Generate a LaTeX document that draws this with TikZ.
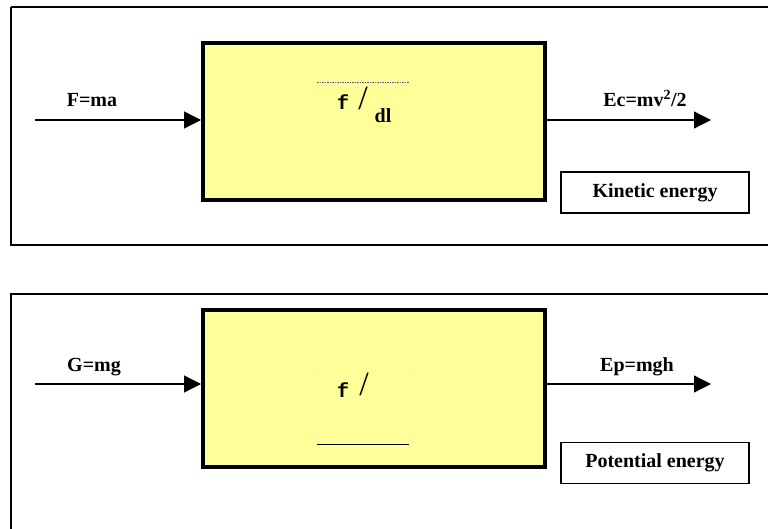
\documentclass[tikz,border=0pt]{standalone}
\usepackage{fontspec}
\setmainfont{Liberation Serif}
\newfontfamily\cour{Liberation Mono}
\usetikzlibrary{arrows.meta}
\definecolor{boxyellow}{RGB}{255,255,153}
\definecolor{dashgrey}{RGB}{90,90,140}
\tikzset{
  frame/.style={draw=black,line width=1.5pt},
  machine/.style={draw=black,fill=boxyellow,line width=4pt},
  flow/.style={draw=black,line width=1.3pt,-{Triangle[length=17pt,width=17pt]}},
  lbl/.style={font=\fontsize{20}{22}\selectfont\bfseries,inner sep=0pt,anchor=base},
  tag/.style={draw=black,line width=1.3pt,minimum width=188pt,minimum height=41pt,font=\fontsize{20}{22}\selectfont\bfseries,inner sep=0pt},
  mono/.style={font=\cour\fontsize{20}{22}\selectfont\bfseries,inner sep=0pt,anchor=base},
  slash/.style={font=\fontsize{34}{36}\selectfont,inner sep=0pt,anchor=base},
}
\begin{document}
\begin{tikzpicture}[x=1pt,y=-1pt]
\useasboundingbox (0,0) rectangle (768,529);
% top panel
\draw[frame] (11,7) -- (770,7) (11,7) -- (11,245) -- (770,245);
\node[machine,minimum width=342pt,minimum height=157pt,inner sep=0pt] (m1) at (374,121.5) {};
\coordinate (in1) at (35,120);
\coordinate (out1) at (711,120);
\draw[flow] (in1) -- (m1.west |- in1);
\draw[flow] (m1.east |- out1) -- (out1);
\node[lbl] (fma) at (92,107) {F=ma};
\node[lbl] (ec) at (645,107) {Ec=mv\textsuperscript{2}/2};
\node[tag] (ke) at (655,192.5) {Kinetic energy};
\coordinate (d1a) at (317,82);
\coordinate (d1b) at (409,82);
\draw[dashgrey,dash pattern=on 1.5pt off 1pt,line width=0.8pt] (d1a) -- (d1b);
\node[mono] (f1) at (343,110) {f};
\node[slash] (s1) at (363,110) {/};
\node[lbl] (dl1) at (383,123) {dl};
% bottom panel
\draw[frame] (11,531) -- (11,294) -- (770,294);
\node[machine,minimum width=342pt,minimum height=157pt,inner sep=0pt] (m2) at (374,388.5) {};
\coordinate (in2) at (35,384);
\coordinate (out2) at (711,384);
\draw[flow] (in2) -- (m2.west |- in2);
\draw[flow] (m2.east |- out2) -- (out2);
\node[lbl] (gmg) at (94,371) {G=mg};
\node[lbl] (ep) at (637,371) {Ep=mgh};
\node[tag] (pe) at (655,463) {Potential energy};
\coordinate (d2a) at (317,369);
\coordinate (d2b) at (409,369);
\draw[white,line width=0.7pt] (d2a) -- (d2b);
\coordinate (d3a) at (317,444);
\coordinate (d3b) at (409,444);
\draw[black,line width=1pt] (d3a) -- (d3b);
\node[mono] (f2) at (343,397) {f};
\node[slash] (s2) at (364,395) {/};
\end{tikzpicture}
\end{document}
